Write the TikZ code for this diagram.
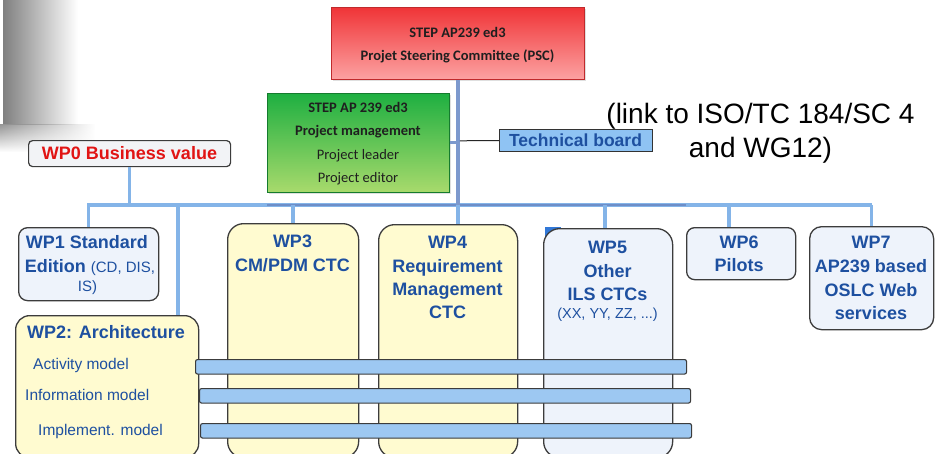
\documentclass[tikz,border=0pt]{standalone}
\usepackage{fontspec}
\setmainfont{Liberation Sans}
\newfontfamily\calibrifont{Carlito}
\usetikzlibrary{shadows,fadings}

\definecolor{wpblue}{RGB}{30,80,160}
\definecolor{boxline}{RGB}{60,60,60}
\definecolor{paleyellow}{RGB}{255,251,208}
\definecolor{paleblue}{RGB}{238,243,251}
\definecolor{palegray}{RGB}{242,243,246}
\definecolor{barblue}{RGB}{157,200,242}
\definecolor{busblue}{RGB}{132,180,232}
\definecolor{busdark}{RGB}{110,142,200}
\definecolor{tbblue}{RGB}{143,195,243}
\definecolor{pscred1}{RGB}{240,52,55}
\definecolor{pscred2}{RGB}{252,162,162}
\definecolor{pmgreen1}{RGB}{30,175,65}
\definecolor{pmgreen2}{RGB}{168,218,108}
\definecolor{wpred}{RGB}{225,20,20}
\definecolor{cornerblue}{RGB}{50,120,215}

\tikzfading[name=fadetoright, left color=transparent!0, right color=transparent!100]

\tikzset{
  wpbox/.style={draw=boxline, line width=1.3pt, inner sep=0pt, anchor=north west},
  mgmtbox/.style={draw=#1, line width=0.6pt, inner sep=0pt, anchor=north west,
    drop shadow={opacity=0.25, shadow xshift=1.5pt, shadow yshift=-1.5pt}},
  barbox/.style={draw=boxline, line width=1.1pt, fill=barblue, rounded corners=2pt,
    inner sep=0pt, anchor=north west, minimum height=14.5pt},
  wptitle/.style={text=wpblue, inner sep=0pt, anchor=base,
    font=\bfseries\fontsize{18}{20}\selectfont},
  wpnote/.style={text=wpblue, inner sep=0pt, anchor=base,
    font=\fontsize{14.5}{16}\selectfont},
  archline/.style={text=wpblue, inner sep=0pt, anchor=base west,
    font=\fontsize{15.5}{17}\selectfont},
  caltitle/.style={text=black!88, inner sep=0pt, anchor=base,
    font=\calibrifont\bfseries\fontsize{14.5}{16}\selectfont},
  calline/.style={text=black!88, inner sep=0pt, anchor=base,
    font=\calibrifont\fontsize{14.5}{16}\selectfont},
  bus/.style={draw=busblue, line width=3.2pt},
  busmid/.style={draw=busdark, line width=2.8pt},
  drop/.style={draw=busblue, line width=3.4pt},
  pscline/.style={draw=busdark!90!white, line width=4pt},
}

\begin{document}
\begin{tikzpicture}[x=1pt,y=-1pt]
\clip (0,0) rectangle (936,453);
\fill[white] (0,0) rectangle (936,453);

% grey slide corner in the top left
\shade[left color=black!50, right color=white] (3,0) rectangle (78,124);
\shade[top color=black!42, bottom color=white, path fading=fadetoright] (0,124) rectangle (95,152);

% management boxes
\node[mgmtbox=pscred1!80!black, top color=pscred1, bottom color=pscred2,
      minimum width=253pt, minimum height=72pt] (psc) at (331,7) {};
\node[caltitle] (psc1) at (457.5,37) {STEP AP239 ed3};
\node[caltitle] (psc2) at (457.5,60) {Projet Steering Committee (PSC)};

\node[mgmtbox=pmgreen1!70!black, top color=pmgreen1, bottom color=pmgreen2,
      minimum width=182pt, minimum height=99pt] (pm) at (267,93) {};
\node[caltitle] (pm1) at (358,112) {STEP AP 239 ed3};
\node[caltitle] (pm2) at (358,135) {Project management};
\node[calline]  (pm3) at (358,159) {Project leader};
\node[calline]  (pm4) at (358,182.5) {Project editor};

% technical board and liaison note
\node[draw=black!80, line width=1pt, fill=tbblue, inner sep=0pt, anchor=north west,
      minimum width=153pt, minimum height=22pt] (tb) at (499,129) {};
\node[text=wpblue, inner sep=0pt, anchor=base, font=\bfseries\fontsize{17.5}{19}\selectfont]
      (tbt) at (575.5,146.3) {Technical board};
\node[inner sep=0pt, anchor=base, font=\fontsize{28}{30}\selectfont] (link1) at (760.5,123)
      {(link to ISO/TC 184/SC 4};
\node[inner sep=0pt, anchor=base, font=\fontsize{28}{30}\selectfont] (link2) at (760.5,157)
      {and WG12)};

% business value box
\node[wpbox, line width=1.2pt, fill=palegray, rounded corners=4pt,
      minimum width=202pt, minimum height=26pt] (wp0) at (28,140) {};
\node[text=wpred, inner sep=0pt, anchor=base, font=\bfseries\fontsize{18}{20}\selectfont]
      (wp0t) at (129.5,159.5) {WP0 Business value};

% work package boxes
\node[wpbox, fill=paleblue, rounded corners=9pt, minimum width=140pt, minimum height=73pt]
      (wp1) at (18,227) {};
\node[wpbox, fill=paleyellow, rounded corners=14pt, minimum width=183pt, minimum height=142pt]
      (wp2) at (15,315) {};
\node[wpbox, fill=paleyellow, rounded corners=16pt, minimum width=131pt, minimum height=234pt]
      (wp3) at (227,223) {};
\node[wpbox, fill=paleyellow, rounded corners=16pt, minimum width=139pt, minimum height=233pt]
      (wp4) at (378,224) {};
\fill[cornerblue] (545,227) rectangle (561,238);
\node[wpbox, fill=paleblue, rounded corners=16pt, minimum width=129pt, minimum height=229pt]
      (wp5) at (543,228) {};
\node[wpbox, fill=paleblue, rounded corners=8pt, minimum width=109pt, minimum height=52pt]
      (wp6) at (686,227) {};
\node[wpbox, fill=paleblue, rounded corners=12pt, minimum width=124pt, minimum height=103pt]
      (wp7) at (809,226) {};

% connectors
\coordinate (busL) at (87,205);
\coordinate (busR) at (872,205);
\coordinate (busM1) at (267,205);
\coordinate (busM2) at (686,205);
\coordinate (d2) at (178,205);
\coordinate (d5) at (605,205);
\coordinate (d6) at (729,205);
\draw[bus] (busL) -- (busR);
\draw[busmid] (busM1) -- (busM2);
\draw[pscline] (psc.south) -- (psc.south |- busL);
\draw[pscline, line width=3pt] (pm.east) -- (pm.east -| psc.south);
\path (pm.east -| psc.south) ++(2,-2) coordinate (tbj);
\draw[black!85, line width=1pt] (tbj) -- (tb.west);
\draw[drop] (psc.south |- busL) -- (psc.south |- wp4.north);
\draw[drop] (wp0.south) -- (wp0.south |- busL);
\draw[drop] (wp1.north) -- (wp1.north |- busL);
\draw[drop] (d2) -- (d2 |- wp2.north);
\draw[drop] (wp3.north) -- (wp3.north |- busL);
\draw[drop] (d5) -- (d5 |- wp5.north);
\draw[drop] (d6) -- (d6 |- wp6.north);
\draw[drop] (wp7.north) -- (wp7.north |- busR);

% work package texts
\node[wptitle] (wp1a) at (87,248) {WP1 Standard};
\node[wptitle] (wp1b) at (90,272) {Edition {\mdseries\fontsize{15}{17}\selectfont (CD, DIS,}};
\node[wptitle, font=\fontsize{15}{17}\selectfont] (wp1c) at (87.5,291) {IS)};

\node[wptitle] (wp2a) at (106,338) {WP2: Architecture};
\node[archline] (wp2b) at (33,369) {Activity model};
\node[archline] (wp2c) at (25,400) {Information model};
\node[archline] (wp2d) at (38,435) {Implement. model};

\node[wptitle] (wp3a) at (292.5,247) {WP3};
\node[wptitle] (wp3b) at (292.5,271) {CM/PDM CTC};

\node[wptitle] (wp4a) at (447.5,248) {WP4};
\node[wptitle] (wp4b) at (447.5,272) {Requirement};
\node[wptitle] (wp4c) at (447.5,295) {Management};
\node[wptitle] (wp4d) at (447.5,318) {CTC};

\node[wptitle] (wp5a) at (607.5,253) {WP5};
\node[wptitle] (wp5b) at (607.5,277) {Other};
\node[wptitle] (wp5c) at (607.5,300) {ILS CTCs};
\node[wpnote] (wp5d) at (607.5,318) {(XX, YY, ZZ, ...)};

\node[wptitle] (wp6a) at (739,248) {WP6};
\node[wptitle] (wp6b) at (739,271) {Pilots};

\node[wptitle] (wp7a) at (871,248) {WP7};
\node[wptitle] (wp7b) at (871,272) {AP239 based};
\node[wptitle] (wp7c) at (871,296) {OSLC Web};
\node[wptitle] (wp7d) at (871,319) {services};

% model bars crossing the work packages
\node[barbox, minimum width=491pt] (bar1) at (195,359) {};
\node[barbox, minimum width=491pt] (bar2) at (199,388) {};
\node[barbox, minimum width=491pt] (bar3) at (200,423) {};
\end{tikzpicture}
\end{document}
